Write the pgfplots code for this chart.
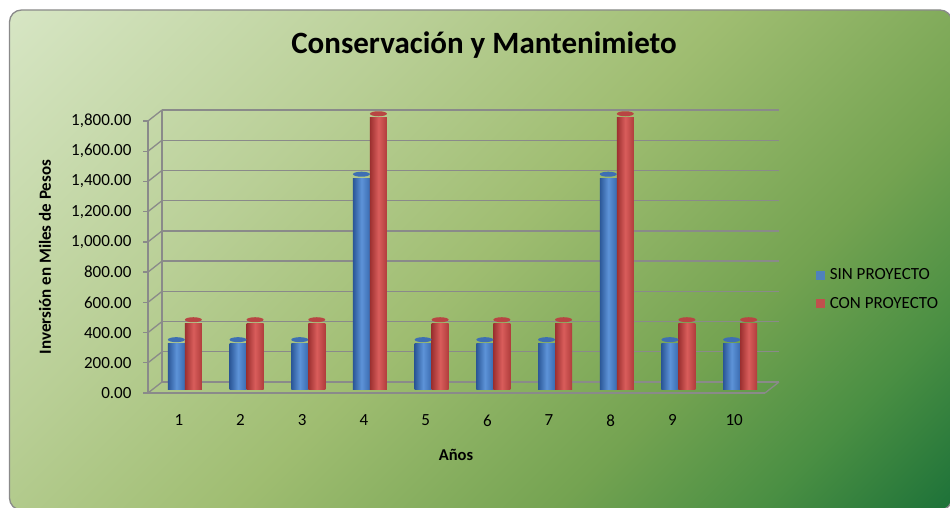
\documentclass[border=0pt]{standalone}
\usepackage{fontspec}
\setmainfont{Carlito}
\usepackage{pgfplots}
\usepackage{pgfplotstable}
\pgfplotsset{compat=1.18}
\usetikzlibrary{shapes.geometric}

\definecolor{gridc}{HTML}{8A8A8A}
\definecolor{bg0}{HTML}{D6E5C3}
\definecolor{bg1}{HTML}{B9CF96}
\definecolor{bg2}{HTML}{9FBD71}
\definecolor{bg3}{HTML}{74A351}
\definecolor{bg4}{HTML}{4A8F43}
\definecolor{bg5}{HTML}{1F7339}
\definecolor{blueL}{HTML}{2B5797}
\definecolor{blueM}{HTML}{5D93D8}
\definecolor{blueR}{HTML}{3A6BB0}
\definecolor{blueT}{HTML}{3E6FB3}
\definecolor{redL}{HTML}{9C3030}
\definecolor{redM}{HTML}{D95D5B}
\definecolor{redR}{HTML}{B03D3C}
\definecolor{redT}{HTML}{B84543}
\definecolor{legblue}{HTML}{4F81BD}
\definecolor{legred}{HTML}{C0504D}

\pgfdeclarehorizontalshading{bgshade}{100bp}{color(0bp)=(bg0); color(15bp)=(bg0); color(35bp)=(bg1); color(50bp)=(bg2); color(66bp)=(bg3); color(76bp)=(bg4); color(85bp)=(bg5); color(100bp)=(bg5)}

\pgfplotstableread{
x sin con
1 300 432
2 300 432
3 300 432
4 1395 1795
5 300 432
6 300 432
7 300 432
8 1395 1795
9 300 432
10 300 432
}\datatable

\begin{document}
\begin{tikzpicture}
\begin{scope}
\clip (0pt,0pt) rectangle (950pt,507pt);
\path[shading=bgshade, shading angle=-45]
  (9.5pt,-3pt) [rounded corners=12pt] rectangle (952pt,497pt);
\path[draw=gridc, line width=1.3pt, rounded corners=12pt] (9.5pt,-3pt) rectangle (952pt,497pt);

\node[font=\fontsize{31}{35}\selectfont\bfseries] at (484pt,462pt) {Conservación y Mantenimieto};
\node[font=\fontsize{17}{19}\selectfont\bfseries, rotate=90] at (45pt,250pt) {Inversión en Miles de Pesos};
\node[font=\fontsize{16.5}{19}\selectfont\bfseries] at (456pt,52pt) {Años};

\begin{axis}[
  at={(148pt,114pt)}, anchor=south west,
  scale only axis, width=617pt, height=272pt,
  xmin=0.5, xmax=10.5, ymin=0, ymax=1800,
  axis x line*=bottom, axis y line*=left,
  axis line style={gridc, line width=1.3pt},
  xtick={1,...,10},
  ytick={0,200,...,1800},
  x tick style={draw=none},
  y tick style={gridc, line width=1.3pt},
  tick align=outside, major tick length=5pt,
  ticklabel style={font=\fontsize{17}{19}\selectfont},
  xticklabel style={yshift=-13pt},
  yticklabel style={xshift=-8pt},
  /pgf/number format/assume math mode=true,
  yticklabel={\pgfmathprintnumber[fixed, fixed zerofill, precision=2, 1000 sep={,}]{\tick}},
  scaled y ticks=false,
  clip=false,
  legend style={at={(rel axis cs:1.083,0.465)}, anchor=north west, draw=none, fill=none,
    font=\fontsize{17}{19}\selectfont, row sep=12pt, inner sep=0pt},
  legend cell align=left,
  legend image code/.code={\fill[#1] (0pt,-4pt) rectangle (8pt,4pt); \path (11pt,0pt);},
]
\pgfplotsinvokeforeach{0,200,...,1800}{
  \draw[gridc, line width=1.3pt] ([shift={(14pt,11pt)}]axis cs:0.5,#1) -- ([shift={(14pt,11pt)}]axis cs:10.5,#1);
  \draw[gridc, line width=1.3pt] (axis cs:0.5,#1) -- ([shift={(14pt,11pt)}]axis cs:0.5,#1);
}
\draw[gridc, line width=1.3pt] ([shift={(14pt,11pt)}]axis cs:0.5,0) -- ([shift={(14pt,11pt)}]axis cs:0.5,1800);
\draw[gridc, line width=1.3pt] (axis cs:10.5,0) -- ([shift={(14pt,11pt)}]axis cs:10.5,0);

\addlegendimage{legblue}
\addlegendentry{SIN PROYECTO}
\addlegendimage{legred}
\addlegendentry{CON PROYECTO}

\pgfplotsinvokeforeach{1,...,10}{
\addplot[ybar, bar width=17pt, bar shift=-2.5pt, yshift=4pt, draw=none,
  left color=blueL, right color=blueR, middle color=blueM,
  restrict x to domain=#1:#1,
  nodes near coords={}, every node near coord/.style={ellipse, fill=blueT, minimum width=17pt, minimum height=5pt, inner sep=0pt, anchor=center, xshift=-2.5pt, yshift=4pt},
  forget plot] table[x=x,y=sin]{\datatable};
\addplot[ybar, bar width=17pt, bar shift=14.5pt, yshift=4pt, draw=none,
  left color=redL, right color=redR, middle color=redM,
  restrict x to domain=#1:#1,
  nodes near coords={}, every node near coord/.style={ellipse, fill=redT, minimum width=17pt, minimum height=5pt, inner sep=0pt, anchor=center, xshift=14.5pt, yshift=4pt},
  forget plot] table[x=x,y=con]{\datatable};
}
\end{axis}
\end{scope}
\pgfresetboundingbox
\useasboundingbox (0pt,0pt) rectangle (950pt,507pt);
\end{tikzpicture}
\end{document}
